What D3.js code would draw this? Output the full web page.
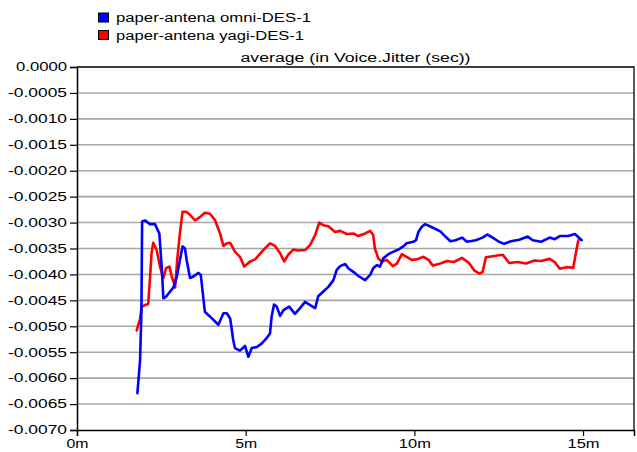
<!DOCTYPE html>
<html>
<head>
<meta charset="utf-8">
<script src="https://cdn.jsdelivr.net/npm/d3@7"></script>
<style>
  html, body { margin: 0; padding: 0; background: #fff; }
  svg { display: block; font-family: "Liberation Sans", Arial, sans-serif; }
</style>
</head>
<body>
<svg id="chart" width="637" height="452"></svg>
<script>
// Simulation time in minutes and average voice jitter (sec) for each scenario
const omniTime = [1.79,1.87,1.91,1.93,2.02,2.16,2.31,2.44,2.51,2.56,2.64,2.76,2.86,2.96,3.05,3.13,3.20,3.25,3.35,3.45,3.60,3.67,3.74,3.79,3.94,4.19,4.34,4.44,4.54,4.63,4.68,4.83,4.98,5.08,5.18,5.33,5.48,5.62,5.72,5.77,5.84,5.92,6.02,6.12,6.29,6.46,6.61,6.76,6.91,7.06,7.15,7.30,7.45,7.60,7.70,7.80,7.95,8.04,8.19,8.34,8.54,8.69,8.78,8.89,8.98,9.08,9.23,9.38,9.53,9.67,9.77,9.97,10.05,10.12,10.22,10.32,10.52,10.77,10.92,11.07,11.22,11.41,11.56,11.82,12.02,12.16,12.32,12.51,12.66,12.86,13.11,13.36,13.51,13.76,14.01,14.16,14.31,14.56,14.76,14.96];
const omniJitter = [-0.00629,-0.00565,-0.00469,-0.00298,-0.00296,-0.00303,-0.00303,-0.00321,-0.00385,-0.00446,-0.00443,-0.00433,-0.00425,-0.00404,-0.00372,-0.00346,-0.00350,-0.00372,-0.00407,-0.00404,-0.00397,-0.00401,-0.00443,-0.00472,-0.00481,-0.00497,-0.00475,-0.00475,-0.00485,-0.00526,-0.00542,-0.00547,-0.00538,-0.00559,-0.00542,-0.00540,-0.00533,-0.00523,-0.00514,-0.00481,-0.00458,-0.00462,-0.00480,-0.00469,-0.00462,-0.00476,-0.00465,-0.00453,-0.00459,-0.00465,-0.00442,-0.00433,-0.00424,-0.00411,-0.00391,-0.00384,-0.00380,-0.00388,-0.00395,-0.00403,-0.00411,-0.00401,-0.00388,-0.00382,-0.00385,-0.00369,-0.00361,-0.00356,-0.00352,-0.00346,-0.00340,-0.00337,-0.00334,-0.00318,-0.00308,-0.00303,-0.00309,-0.00317,-0.00327,-0.00336,-0.00334,-0.00329,-0.00337,-0.00334,-0.00329,-0.00323,-0.00329,-0.00337,-0.00341,-0.00336,-0.00333,-0.00327,-0.00334,-0.00337,-0.00329,-0.00332,-0.00326,-0.00326,-0.00322,-0.00334];

const yagiTime = [1.77,1.87,1.92,2.02,2.11,2.16,2.21,2.26,2.36,2.46,2.56,2.64,2.74,2.81,2.91,2.97,3.05,3.13,3.23,3.35,3.50,3.65,3.79,3.94,4.09,4.24,4.34,4.44,4.54,4.68,4.83,4.96,5.13,5.28,5.52,5.72,5.87,6.02,6.14,6.26,6.41,6.56,6.76,6.91,7.06,7.18,7.30,7.45,7.65,7.80,8.00,8.19,8.34,8.54,8.69,8.78,8.83,8.93,9.03,9.18,9.36,9.48,9.63,9.77,9.92,10.07,10.27,10.42,10.55,10.77,10.97,11.17,11.41,11.62,11.77,11.92,12.02,12.12,12.32,12.62,12.81,13.06,13.31,13.56,13.76,14.01,14.16,14.31,14.51,14.71,14.78,14.86];
const yagiJitter = [-0.00508,-0.00485,-0.00462,-0.00459,-0.00457,-0.00411,-0.00359,-0.00339,-0.00353,-0.00385,-0.00407,-0.00388,-0.00385,-0.00404,-0.00425,-0.00372,-0.00321,-0.00279,-0.00279,-0.00285,-0.00296,-0.00289,-0.00281,-0.00283,-0.00295,-0.00321,-0.00345,-0.00340,-0.00339,-0.00356,-0.00366,-0.00385,-0.00375,-0.00371,-0.00353,-0.00340,-0.00345,-0.00359,-0.00375,-0.00362,-0.00352,-0.00354,-0.00353,-0.00343,-0.00324,-0.00300,-0.00305,-0.00307,-0.00318,-0.00316,-0.00322,-0.00321,-0.00326,-0.00321,-0.00316,-0.00324,-0.00350,-0.00369,-0.00375,-0.00372,-0.00384,-0.00379,-0.00361,-0.00366,-0.00372,-0.00371,-0.00366,-0.00372,-0.00383,-0.00379,-0.00374,-0.00376,-0.00368,-0.00378,-0.00392,-0.00398,-0.00396,-0.00367,-0.00365,-0.00362,-0.00378,-0.00376,-0.00379,-0.00373,-0.00374,-0.00370,-0.00376,-0.00389,-0.00386,-0.00387,-0.00361,-0.00334];

const seriesNames = ["paper-antena omni-DES-1", "paper-antena yagi-DES-1"];
const seriesColors = ["#0000ff", "#ff0000"];
const chartTitle = "average (in Voice.Jitter (sec))";

const yTicks = [0, -0.0005, -0.0010, -0.0015, -0.0020, -0.0025, -0.0030, -0.0035, -0.0040, -0.0045, -0.0050, -0.0055, -0.0060, -0.0065, -0.0070];
const xTicks = [0, 5, 10, 15];
const xTickLabels = ["0m", "5m", "10m", "15m"];

const svg = d3.select("#chart");
const plot = { left: 77, right: 634, top: 67, bottom: 430 };

const x = d3.scaleLinear().domain([0, 16.51]).range([plot.left, plot.right]);
const y = d3.scaleLinear().domain([-0.0070, 0]).range([plot.bottom, plot.top]);

// horizontal grid lines
svg.append("g")
  .selectAll("line")
  .data(yTicks.filter(v => v !== 0 && v !== -0.0070))
  .join("line")
  .attr("x1", plot.left).attr("x2", plot.right)
  .attr("y1", d => y(d)).attr("y2", d => y(d))
  .attr("stroke", "#a6a6a6")
  .attr("stroke-width", 1.6);

// top and right frame
svg.append("path")
  .attr("d", `M${plot.left},${y(0)}H${plot.right}V${plot.bottom}`)
  .attr("fill", "none")
  .attr("stroke", "#000")
  .attr("stroke-width", 1.3);

// y axis
const yAxis = d3.axisLeft(y)
  .tickValues(yTicks)
  .tickSize(7)
  .tickPadding(3)
  .tickFormat(d3.format(".4f"));
const gy = svg.append("g")
  .attr("transform", `translate(${plot.left},0)`)
  .call(yAxis);
gy.select(".domain").attr("stroke", "#000").attr("stroke-width", 1.5);
gy.selectAll(".tick line").attr("stroke", "#000").attr("stroke-width", 1.2);
gy.selectAll(".tick text")
  .attr("fill", "#000")
  .style("font-size", "12px")
  .text(d => d3.format(".4f")(d).replace("−", "-"))
  .each(function () {
    const t = d3.select(this);
    const len = t.text().length === 6 ? 51 : 59;
    t.attr("textLength", len).attr("lengthAdjust", "spacingAndGlyphs");
  });

// x axis
const xAxis = d3.axisBottom(x)
  .tickValues(xTicks)
  .tickSize(6)
  .tickPadding(3)
  .tickFormat((d, i) => xTickLabels[i]);
const gx = svg.append("g")
  .attr("transform", `translate(0,${plot.bottom})`)
  .call(xAxis);
gx.select(".domain").attr("stroke", "#000").attr("stroke-width", 1.5);
gx.selectAll(".tick line").attr("stroke", "#000").attr("stroke-width", 1.2);
gx.selectAll(".tick text")
  .attr("fill", "#000")
  .style("font-size", "12px")
  .each(function () {
    const t = d3.select(this);
    const len = t.text().length === 2 ? 22 : 32;
    t.attr("textLength", len).attr("lengthAdjust", "spacingAndGlyphs");
  });

// series lines
const line = d3.line()
  .x(d => x(d[0]))
  .y(d => y(d[1]));

const seriesData = [
  d3.zip(omniTime, omniJitter),
  d3.zip(yagiTime, yagiJitter)
];

// yagi drawn first so omni sits on top
[1, 0].forEach(i => {
  svg.append("path")
    .datum(seriesData[i])
    .attr("fill", "none")
    .attr("stroke", seriesColors[i])
    .attr("stroke-width", 2.6)
    .attr("stroke-linejoin", "round")
    .attr("stroke-linecap", "round")
    .attr("d", line);
});

// title
svg.append("text")
  .attr("x", (plot.left + plot.right) / 2)
  .attr("y", 62)
  .attr("text-anchor", "middle")
  .style("font-size", "12.5px")
  .attr("textLength", 230)
  .attr("lengthAdjust", "spacingAndGlyphs")
  .text(chartTitle);

// legend
const legend = svg.append("g");
seriesNames.forEach((name, i) => {
  const cy = 17.5 + i * 17.5;
  legend.append("rect")
    .attr("x", 98.5).attr("y", cy - 4.5)
    .attr("width", 10).attr("height", 9)
    .attr("fill", seriesColors[i])
    .attr("stroke", "#000")
    .attr("stroke-width", 1);
  legend.append("text")
    .attr("x", 116)
    .attr("y", cy + 4.5)
    .style("font-size", "12.5px")
    .attr("textLength", i === 0 ? 195 : 188)
    .attr("lengthAdjust", "spacingAndGlyphs")
    .text(name);
});
</script>
</body>
</html>
